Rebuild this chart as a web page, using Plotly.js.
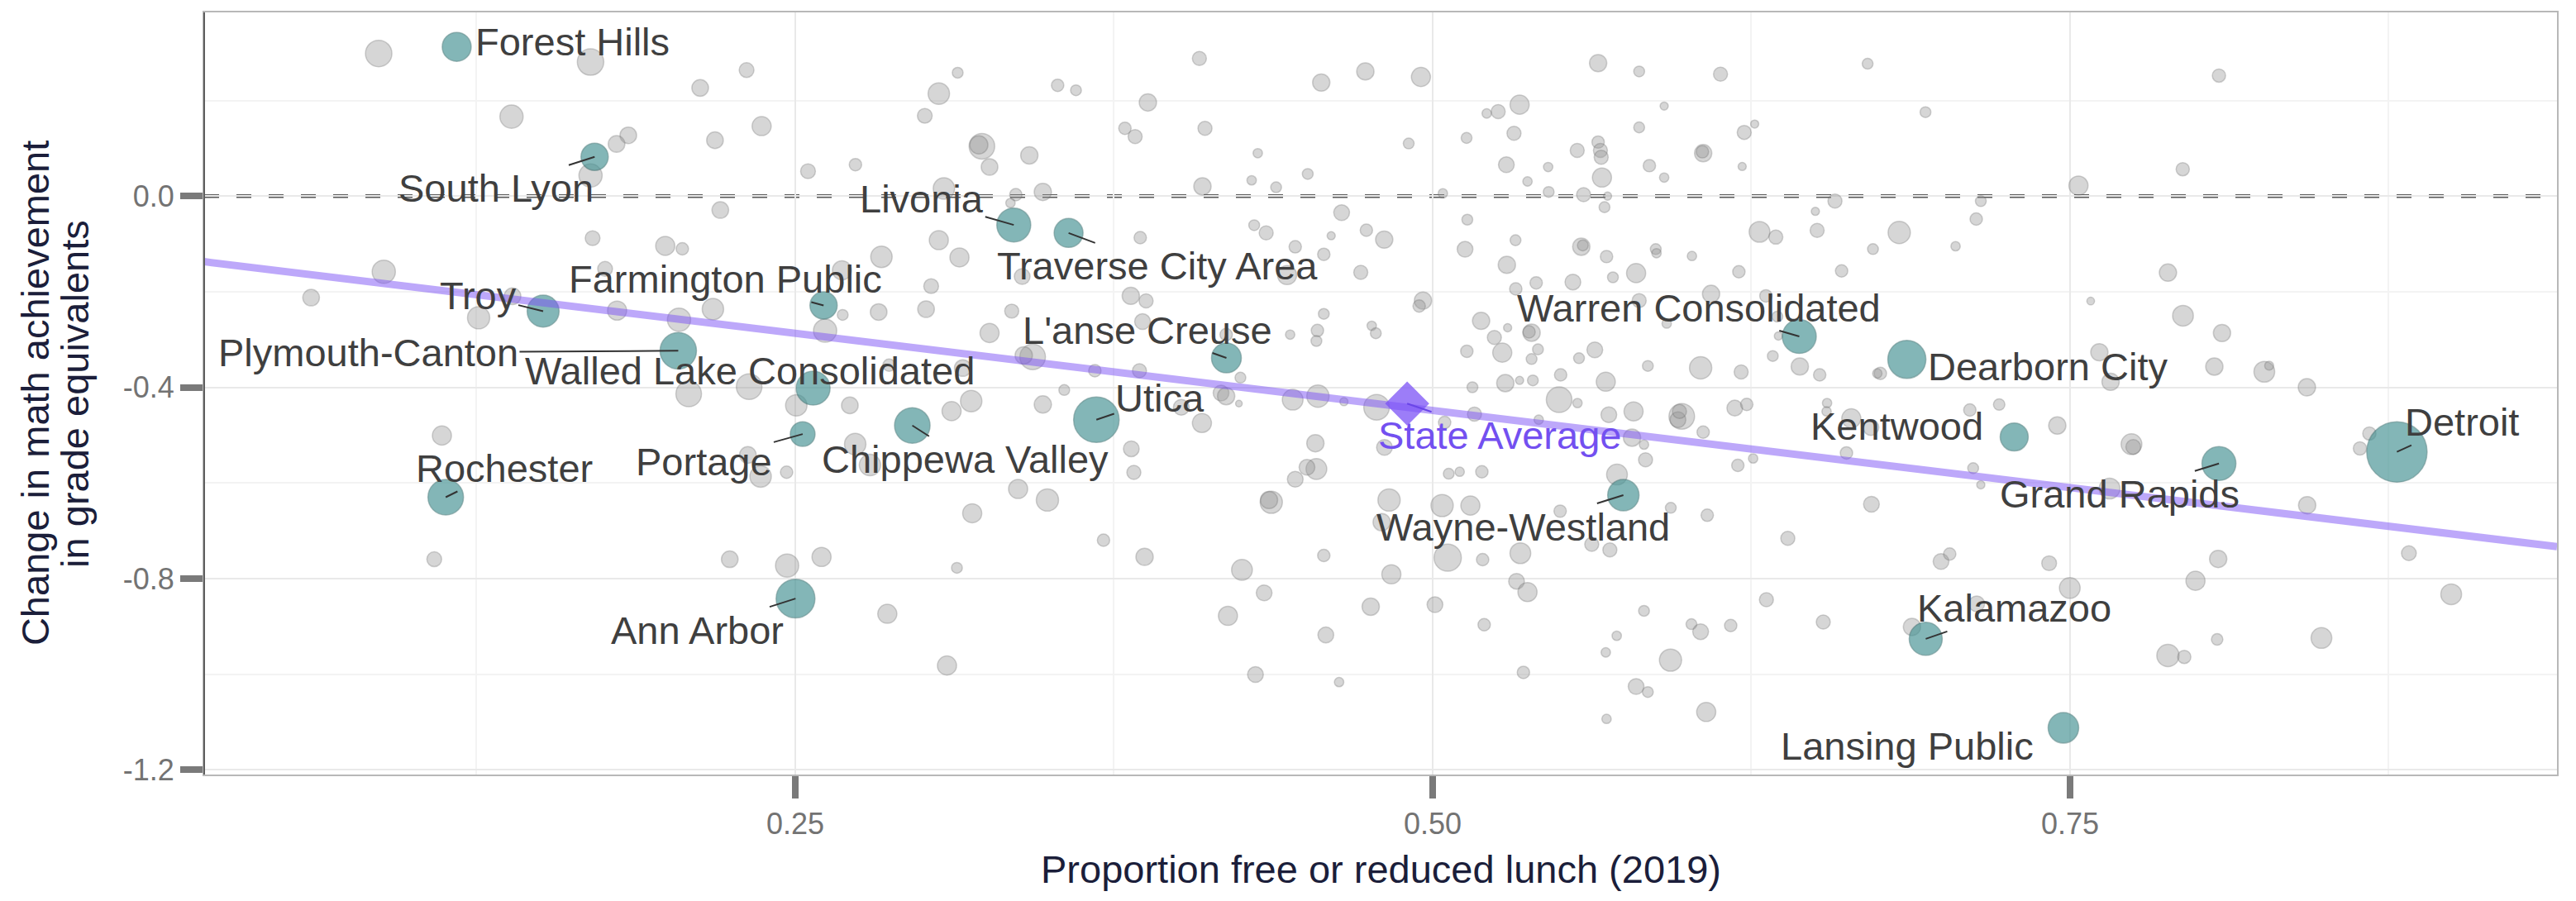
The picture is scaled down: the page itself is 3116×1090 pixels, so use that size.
<!DOCTYPE html>
<html>
<head>
<meta charset="utf-8">
<script src="https://cdn.plot.ly/plotly-3.0.1.min.js"></script>
<style>
html,body{margin:0;padding:0;background:#ffffff;}
#chart{width:3116px;height:1090px;}
</style>
</head>
<body>
<div id="chart"></div>
<script>
// ---------------- DATA ----------------
// Highlighted districts: proportion FRL (2019), change in math (grade equiv.), enrollment (thousands)
const highlightNames = ["Forest Hills","South Lyon","Troy","Plymouth-Canton","Walled Lake Consolidated",
  "Farmington Public","Livonia","Traverse City Area","L'anse Creuse","Utica","Chippewa Valley","Portage",
  "Rochester","Ann Arbor","Warren Consolidated","Dearborn City","Kentwood","Detroit","Grand Rapids",
  "Wayne-Westland","Kalamazoo","Lansing Public"];
const highlightFRL = [0.1172,0.1713,0.1511,0.2041,0.2570,0.2611,0.3357,0.3572,0.4191,0.3681,0.2959,0.2529,
  0.1129,0.2501,0.6438,0.6860,0.7281,0.8782,0.8084,0.5748,0.6934,0.7474];
const highlightChange = [0.3123,0.0822,-0.2406,-0.3235,-0.4017,-0.2286,-0.0603,-0.0771,-0.3385,-0.4677,-0.4798,-0.4978,
  -0.6298,-0.8419,-0.2935,-0.3416,-0.5038,-0.5350,-0.5594,-0.6256,-0.9261,-1.1124];
const highlightEnroll = [11.5,10.2,14.0,18.2,15.8,10.2,15.8,11.5,12.2,28.4,17.3,8.4,
  17.3,20.7,15.8,19.9,10.8,50.0,15.8,13.5,15.0,12.8];

// All other districts
const otherFRL = [
  0.0866,0.1697,0.1387,0.1845,0.1799,0.1697,0.1705,0.0886,0.0601,0.1258,0.1391,0.1801,0.1754,0.1114,0.1084,
  0.1990,0.2057,0.2309,0.2127,0.2368,0.2185,0.2550,0.2736,0.2206,0.3137,0.3063,0.3008,0.3232,0.3220,0.3262,0.3083,0.3063,0.3144,0.2838,0.2683,0.3033,0.2044,0.2177,0.2686,0.2617,0.2827,0.3013,0.3262,0.2082,0.2319,0.2504,0.2714,0.2868,0.3157,0.3190,0.3113,0.2735,
  0.2314,0.2364,0.2466,0.2793,0.3194,0.2243,0.2468,0.2603,0.3134,0.2861,0.3095,
  0.4085,0.3529,0.3601,0.3883,0.4563,0.4736,0.4954,0.3793,0.3833,0.4107,
  0.3418,0.4314,0.4906,0.5133,0.4097,0.4290,0.4386,0.4510,0.3471,0.3365,
  0.3344,0.5040,0.4643,0.5136,0.4300,0.4347,0.4602,0.4740,0.4810,0.3853,
  0.4461,0.4573,0.5127,0.4718,0.4429,0.3390,0.3816,0.3876,0.3349,0.3862,
  0.4573,0.4548,0.4544,0.4441,0.4761,0.4777,0.4962,0.4947,0.5190,0.4190,
  0.3431,0.3396,0.3675,0.3850,0.4246,0.5134,0.5156,0.3555,0.4170,
  0.3471,0.3818,0.3828,0.4014,0.4095,0.4190,0.4240,0.4451,0.4550,0.4652,
  0.4780,0.4540,0.4544,0.4507,0.4461,0.4811,0.5063,0.5106,0.5193,0.5164,
  0.5047,0.3374,0.3489,0.3709,0.3870,0.4367,0.4358,0.4252,0.4339,0.4197,
  0.4305,0.4573,0.4581,0.4633,0.4829,0.4800,0.5037,0.5148,0.4838,0.5059,
  0.5196,0.4757,0.5009,0.5202,
  0.5649,0.5810,0.6129,0.6706,0.5341,0.5257,0.5212,0.5908,0.6933,0.5319,
  0.5810,0.6222,0.6263,0.5567,0.5649,0.5658,0.5661,0.6061,0.6058,0.5289,
  0.5453,0.5850,0.6214,0.5664,0.5908,0.5372,0.5455,0.5592,0.5686,0.5674,
  0.6578,0.6501,0.7150,0.6282,0.6346,0.6508,0.6830,0.7132,0.7051,0.6727,
  0.5325,0.5583,0.5589,0.5875,0.5878,0.6017,0.5682,0.5291,0.5798,0.5707,
  0.6201,0.6604,0.5406,0.5550,0.5326,0.6092,0.6307,0.5810,0.6352,0.5294,
  0.5388,0.5378,0.5242,0.5918,0.5273,0.5413,0.5388,0.5574,0.5636,0.5844,
  0.6051,0.6210,0.6334,0.6356,0.6440,0.6518,0.6756,0.6744,0.5285,0.5341,
  0.5393,0.5502,0.5679,
  0.5496,0.5568,0.5691,0.5788,0.5977,0.5962,0.5968,0.5782,0.5829,0.5835,
  0.6061,0.6185,0.6232,0.6197,0.6257,0.6547,0.6545,0.6642,0.6719,0.6623,
  0.7107,0.7120,0.7150,0.5416,0.5723,0.5500,0.5934,0.6077,0.6721,0.6393,
  0.5624,0.5695,0.5344,0.6994,0.7028,0.5329,0.5372,0.6309,0.5829,0.5722,
  0.5679,0.6015,0.6051,0.6169,0.6532,0.6880,0.7134,0.5933,0.5356,0.5798,
  0.5844,0.6073,0.5682,
  0.8084,0.7942,0.7533,0.7884,0.7581,0.7943,0.8096,0.7615,0.7659,0.8066,0.8262,0.8281,0.8429,0.7222,0.7450,0.7741,0.7748,0.8674,0.8637,
  0.7655,0.8430,0.7418,0.8081,0.8829,0.7499,0.7992,0.8995,0.8077,0.7884,0.7948,0.8486
];
const otherChange = [
  0.2985,0.2805,0.1663,0.1272,0.1092,0.0431,-0.0879,-0.1582,-0.2123,-0.2544,-0.2093,-0.2394,-0.1522,-0.5008,-0.7596,
  -0.1040,-0.1101,0.2637,0.2264,0.1465,0.1170,0.0521,0.0659,-0.0290,0.2582,0.2144,0.1681,0.1044,0.1074,0.0611,0.0160,-0.0921,-0.1282,-0.1270,-0.1552,-0.1883,-0.2586,-0.2364,-0.2484,-0.2815,-0.2424,-0.2364,-0.2863,-0.4137,-0.3986,-0.4377,-0.4377,-0.3536,-0.3596,-0.4287,-0.4497,-0.5188,
  -0.5414,-0.5865,-0.5775,-0.5625,-0.6634,-0.7596,-0.7728,-0.7548,-0.7776,-0.8738,-0.9820,
  0.2881,0.2319,0.2215,0.1960,0.2377,0.2609,0.2493,0.1420,0.1247,0.1420,
  0.0853,0.0899,0.1102,0.1218,0.0204,0.0331,0.0186,0.0464,0.0088,0.0030,
  -0.0144,0.0059,-0.0347,-0.0492,-0.0608,-0.0770,-0.0828,-0.0712,-0.0909,-0.0869,
  -0.1060,-0.1217,-0.1112,-0.1593,-0.1651,-0.1680,-0.2086,-0.2190,-0.2405,-0.2625,
  -0.2463,-0.2811,-0.3030,-0.2897,-0.2712,-0.2868,-0.2185,-0.2300,-0.2608,-0.2897,
  -0.3361,-0.3332,-0.3651,-0.3651,-0.3796,-0.3245,-0.3998,-0.4056,-0.4120,
  -0.4358,-0.5285,-0.5778,-0.4416,-0.4746,-0.4184,-0.4340,-0.4259,-0.4184,-0.4300,
  -0.4416,-0.5169,-0.5708,-0.5673,-0.5923,-0.5256,-0.5807,-0.5766,-0.5766,-0.4561,
  -0.4735,-0.6126,-0.6357,-0.7198,-0.7546,-0.6404,-0.6357,-0.7818,-0.8299,-0.8780,
  -1.0009,-0.7517,-0.9180,-1.0166,-0.6357,-0.6821,-0.6473,-0.6473,-0.7911,-0.7563,
  -0.7604,-0.8589,-0.8548,-0.8966,
  0.2783,0.2609,0.2551,0.2771,0.1913,0.1768,0.1730,0.1884,0.1757,0.1316,
  0.1438,0.1334,0.1508,0.0957,0.1131,0.0957,0.0812,0.0899,0.0928,0.0656,
  0.0609,0.0638,0.0621,0.0389,0.0389,0.0308,0.0088,0.0030,0.0001,-0.0231,
  -0.0104,-0.0318,-0.0104,-0.0747,-0.0857,-0.0718,-0.0759,-0.0480,-0.1048,-0.1107,
  -0.0922,-0.1058,-0.1030,-0.1107,-0.1194,-0.1252,-0.1264,-0.1437,-0.1610,-0.1698,
  -0.1582,-0.1564,-0.1814,-0.1796,-0.1941,-0.2045,-0.2086,-0.2185,-0.2520,-0.2753,
  -0.2857,-0.2840,-0.2956,-0.2666,-0.3274,-0.3205,-0.3407,-0.3390,-0.3216,-0.3552,
  -0.3593,-0.3680,-0.3344,-0.2926,-0.3564,-0.3738,-0.3709,-0.3709,-0.3912,-0.3854,
  -0.3854,-0.3738,-0.3883,
  -0.4259,-0.4329,-0.4572,-0.4503,-0.4607,-0.4677,-0.4503,-0.5053,-0.5198,-0.5517,
  -0.4937,-0.4433,-0.4358,-0.5633,-0.5488,-0.4329,-0.4503,-0.4648,-0.4839,-0.5372,
  -0.4474,-0.5691,-0.6039,-0.4677,-0.5824,-0.6590,-0.6520,-0.6676,-0.6444,-0.7157,
  -0.7285,-0.7401,-0.7470,-0.7644,-0.7488,-0.8056,-0.8282,-0.8444,-0.8676,-0.9197,
  -0.9545,-0.8954,-0.9111,-0.8983,-0.8908,-0.9012,-0.8530,-0.9707,-0.9963,-1.0258,
  -1.0374,-1.0791,-1.0936,
  0.2522,0.0563,0.0221,-0.1600,-0.2195,-0.2502,-0.2863,-0.3265,-0.3884,-0.3566,-0.3674,-0.3548,-0.3999,-0.4359,-0.4798,-0.5188,-0.5248,-0.4966,-0.5278,
  -0.6117,-0.6466,-0.7680,-0.7590,-0.7470,-0.8197,-0.8047,-0.8329,-0.9273,-0.9610,-0.9640,-0.9243
];
const otherEnroll = [
  9.6,9.6,7.4,3.8,3.8,7.4,3.0,7.4,3.8,6.8,3.8,5.0,3.0,5.0,3.0,
  5.0,2.1,3.0,3.8,5.0,3.8,3.0,2.1,3.8,1.6,6.3,3.0,9.0,4.5,3.8,6.3,5.0,5.0,6.3,5.0,3.0,7.4,6.3,1.6,7.4,3.8,3.8,5.0,9.0,9.0,6.3,3.8,2.1,3.8,6.3,5.0,6.3,
  3.8,6.3,2.1,6.3,5.0,3.8,7.4,5.0,1.6,5.0,5.0,
  2.7,2.1,1.6,4.1,4.1,4.1,5.0,2.1,2.7,2.7,
  4.1,1.2,1.6,1.6,4.1,1.2,1.6,1.6,4.1,2.1,
  1.2,1.2,3.4,1.6,1.6,2.7,0.9,2.1,4.1,2.1,
  2.1,2.1,3.4,2.7,5.0,3.4,4.1,2.7,2.7,3.4,
  1.6,2.1,1.6,1.2,1.2,1.6,4.1,2.1,4.1,2.1,
  9.0,4.1,2.1,2.7,1.6,2.1,1.6,1.6,3.4,
  4.1,3.4,2.7,3.4,5.0,4.1,0.6,5.9,6.8,0.9,
  9.0,4.1,5.9,3.4,3.4,3.4,1.6,1.2,2.1,2.7,
  2.1,5.0,6.8,2.1,4.1,6.8,4.1,5.9,3.4,5.0,
  3.4,2.1,3.4,1.2,6.8,4.1,6.8,5.0,5.0,10.2,
  2.1,4.1,3.4,2.1,
  4.1,1.6,2.7,1.6,5.0,2.7,1.2,0.9,1.6,2.7,
  1.6,2.7,0.9,2.7,2.1,2.7,2.7,4.1,2.1,3.4,
  1.2,2.1,0.9,5.0,1.2,1.2,1.6,2.7,0.9,1.6,
  2.7,0.9,1.6,5.9,2.7,2.7,6.8,2.1,1.2,1.6,
  1.6,4.1,1.6,1.6,1.2,1.2,2.1,4.1,5.0,1.6,
  2.1,2.1,2.1,3.4,2.1,4.1,2.1,2.7,1.6,0.9,
  4.1,2.1,2.7,1.2,5.0,1.6,1.6,1.6,3.4,1.6,
  6.8,2.7,1.6,0.9,4.1,2.1,2.1,1.2,4.1,0.9,
  1.6,2.1,5.0,
  9.0,1.2,3.4,5.0,9.0,3.4,2.7,4.1,1.2,2.7,
  2.1,3.4,2.1,2.1,1.2,1.2,1.2,5.0,3.4,2.1,
  2.1,1.6,0.9,1.2,5.9,2.1,1.6,2.1,3.4,2.7,
  2.7,2.7,5.9,3.4,2.1,3.4,5.0,2.7,1.6,1.2,
  1.2,1.6,3.4,2.1,2.7,4.1,3.4,6.8,2.1,3.4,
  1.6,5.0,1.2,
  2.4,2.4,5.0,4.1,0.8,5.9,4.1,4.1,4.1,4.1,5.9,1.1,4.1,1.8,4.1,5.9,3.0,2.4,2.4,
  5.9,4.1,3.0,4.1,3.0,5.9,5.0,5.9,1.8,6.8,2.4,5.9
];

// State average and fitted trend
const stateAvgFRL = 0.49;
const stateAvgChange = -0.434;
const fitIntercept = -0.1254;
const fitSlope = -0.646;

// Axes
const xRange = [0.01816, 0.94099];
const yRange = [-1.2100, 0.3844];
const xTickVals = [0.25, 0.5, 0.75];
const xTickText = ["0.25", "0.50", "0.75"];
const xMinorVals = [0.125, 0.375, 0.625, 0.875];
const yTickVals = [0, -0.4, -0.8, -1.2];
const yTickText = ["0.0", "-0.4", "-0.8", "-1.2"];
const yMinorVals = [0.2, -0.2, -0.6, -1.0];

// ---------------- STYLE / LAYOUT ----------------
const FONT = "Liberation Sans, Arial, Helvetica, sans-serif";
const SIZEREF = 0.01877;
// label placements (pixel offsets of label centre from its point)
const labelOffsets = {
  "Forest Hills":[140,-6], "South Lyon":[-119,38], "Troy":[-78,-19], "Plymouth-Canton":[-375,2],
  "Walled Lake Consolidated":[-77,-21], "Farmington Public":[-119,-32], "Livonia":[-111,-32],
  "Traverse City Area":[107,40], "L'anse Creuse":[-96,-34], "Utica":[77,-26], "Chippewa Valley":[64,41],
  "Portage":[-119,33], "Rochester":[71,-35], "Ann Arbor":[-119,38], "Warren Consolidated":[-121,-35],
  "Dearborn City":[170,9], "Kentwood":[-142,-13], "Detroit":[79,-36], "Grand Rapids":[-120,37],
  "Wayne-Westland":[-121,38], "Kalamazoo":[107,-37], "Lansing Public":[-189,22]
};
const noLeader = new Set(["Forest Hills","Walled Lake Consolidated","Dearborn City","Kentwood","Lansing Public"]);
const stateLabelOffset = [112, 38];

const nOther = Math.min(otherFRL.length, otherChange.length, otherEnroll.length);

const traces = [
  {
    type: "scatter", mode: "markers",
    x: otherFRL.slice(0, nOther), y: otherChange.slice(0, nOther),
    marker: {
      size: otherEnroll.slice(0, nOther), sizemode: "area", sizeref: SIZEREF,
      color: "rgba(150,150,150,0.55)",
      line: {color: "rgba(105,105,105,0.45)", width: 1.5}
    },
    hoverinfo: "skip", showlegend: false
  },
  {
    type: "scatter", mode: "markers",
    x: highlightFRL, y: highlightChange, text: highlightNames,
    marker: {
      size: highlightEnroll, sizemode: "area", sizeref: SIZEREF,
      color: "rgba(70,146,147,0.95)",
      line: {color: "rgba(40,95,95,0.6)", width: 1.5}
    },
    hoverinfo: "text", showlegend: false
  },
  {
    type: "scatter", mode: "lines",
    x: xRange, y: xRange.map(v => fitIntercept + fitSlope * v),
    line: {color: "rgba(123,82,245,0.5)", width: 9},
    hoverinfo: "skip", showlegend: false
  },
  {
    type: "scatter", mode: "markers",
    x: [stateAvgFRL], y: [stateAvgChange],
    marker: {symbol: "diamond", size: 41, color: "rgba(123,82,245,0.75)", line: {width: 0}},
    hoverinfo: "skip", showlegend: false
  }
];

const annotations = [];
highlightNames.forEach((name, i) => {
  const off = labelOffsets[name] || [0, -30];
  const a = {
    x: highlightFRL[i], y: highlightChange[i], xref: "x", yref: "y",
    text: name, font: {family: FONT, size: 47, color: "#3f3f3f"},
    xanchor: "center", yanchor: "middle"
  };
  if (noLeader.has(name)) {
    a.showarrow = false; a.xshift = off[0]; a.yshift = -off[1];
  } else {
    a.showarrow = true; a.ax = off[0]; a.ay = off[1];
    a.arrowhead = 0; a.arrowwidth = 2; a.arrowcolor = "#333333"; a.standoff = 0; a.startstandoff = 0;
  }
  annotations.push(a);
});
annotations.push({
  x: stateAvgFRL, y: stateAvgChange, xref: "x", yref: "y",
  text: "State Average", font: {family: FONT, size: 47, color: "#7350f0"},
  showarrow: true, ax: stateLabelOffset[0], ay: stateLabelOffset[1],
  arrowhead: 0, arrowwidth: 2, arrowcolor: "#6a45e8", standoff: 0,
  xanchor: "center", yanchor: "middle"
});
// axis titles
annotations.push({
  xref: "paper", yref: "paper", x: 0.5, y: -0.1245, xanchor: "center", yanchor: "middle",
  text: "Proportion free or reduced lunch (2019)", showarrow: false,
  font: {family: FONT, size: 47, color: "#1b1e3a"}
});
annotations.push({
  xref: "paper", yref: "paper", x: -0.0720, y: 0.5, xanchor: "center", yanchor: "middle",
  text: "Change in math achievement", textangle: -90, showarrow: false,
  font: {family: FONT, size: 47, color: "#1b1e3a"}
});
annotations.push({
  xref: "paper", yref: "paper", x: -0.0552, y: 0.5, xanchor: "center", yanchor: "middle",
  text: "in grade equivalents", textangle: -90, showarrow: false,
  font: {family: FONT, size: 47, color: "#1b1e3a"}
});

const layout = {
  width: 3116, height: 1090,
  margin: {l: 247, r: 23, t: 15, b: 153, autoexpand: false},
  paper_bgcolor: "#ffffff", plot_bgcolor: "#ffffff",
  font: {family: FONT},
  showlegend: false,
  xaxis: {
    range: xRange, tickmode: "array", tickvals: xTickVals, ticktext: xTickText,
    ticks: "outside", ticklen: 27, tickwidth: 8, tickcolor: "#7a7a7a",
    tickfont: {family: FONT, size: 36, color: "#737373"},
    showgrid: true, gridcolor: "#e9e9e9", gridwidth: 2,
    minor: {tickmode: "array", tickvals: xMinorVals, showgrid: true, gridcolor: "#f3f3f3", gridwidth: 2, ticks: ""},
    zeroline: false, showline: true, linecolor: "#b8b8b8", linewidth: 2, mirror: true
  },
  yaxis: {
    range: yRange, tickmode: "array", tickvals: yTickVals, ticktext: yTickText,
    ticks: "outside", ticklen: 27, tickwidth: 8, tickcolor: "#7a7a7a",
    tickfont: {family: FONT, size: 36, color: "#737373"},
    showgrid: true, gridcolor: "#e9e9e9", gridwidth: 2,
    minor: {tickmode: "array", tickvals: yMinorVals, showgrid: true, gridcolor: "#f3f3f3", gridwidth: 2, ticks: ""},
    zeroline: false, showline: true, linecolor: "#b8b8b8", linewidth: 2, mirror: true
  },
  shapes: [
    {type: "line", xref: "paper", x0: 0, x1: 1, yref: "y", y0: 0, y1: 0,
     line: {color: "#5a5a5a", width: 4.5, dash: "18px,21px"}, layer: "below"},
    {type: "line", xref: "paper", x0: 0, x1: 0, yref: "paper", y0: 0, y1: 1,
     line: {color: "#5f5f5f", width: 2}, layer: "above"}
  ],
  annotations: annotations,
  hovermode: false
};

Plotly.newPlot("chart", traces, layout, {staticPlot: true, displayModeBar: false});
</script>
</body>
</html>
